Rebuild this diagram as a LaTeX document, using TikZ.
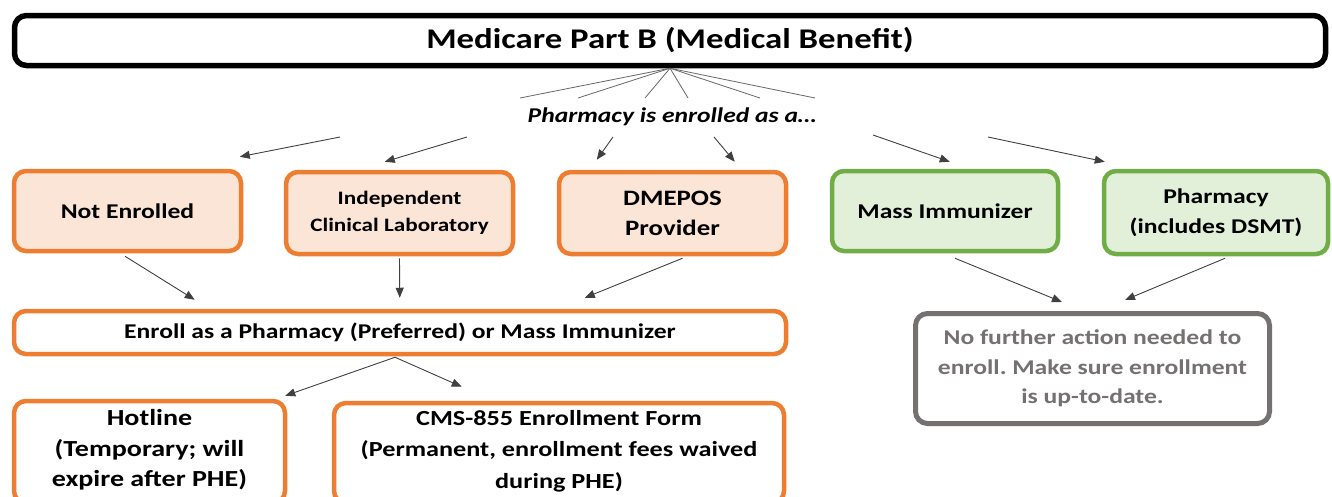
\documentclass[tikz,border=0pt]{standalone}
\usepackage{fontspec}
\setmainfont{Carlito}[FakeStretch=1.22]
\usetikzlibrary{arrows.meta,calc}
\definecolor{orn}{HTML}{ED7D31}
\definecolor{peach}{HTML}{FBE5D6}
\definecolor{grn}{HTML}{70AD47}
\definecolor{lgrn}{HTML}{E2F0D9}
\definecolor{gry}{HTML}{767171}
\definecolor{arr}{HTML}{404040}
\frenchspacing
\tikzset{
  base/.style={rounded corners=12pt, align=center, font=\fontsize{21}{28}\selectfont\bfseries, inner sep=0pt},
  obox/.style={base, draw=orn, line width=4.5pt, fill=peach},
  wbox/.style={base, draw=orn, line width=4.5pt, fill=white},
  gbox/.style={base, draw=grn, line width=4.5pt, fill=lgrn},
  graybox/.style={base, draw=gry, line width=5pt, fill=white, text=gry},
  conn/.style={draw=arr, line width=0.9pt, -{Triangle[length=10pt,width=8pt]}},
  fan/.style={draw=gray!80!black, line width=0.8pt}
}
\begin{document}
\begin{tikzpicture}[x=1pt,y=-1pt]
\useasboundingbox (0,0) rectangle (1332,496);
\node[base, draw=black, line width=5.5pt, fill=white, minimum width=1311pt, minimum height=50pt, font=\fontsize{28.5}{34}\selectfont\bfseries] (title) at (670,40.5) {Medicare Part B (Medical Benefit)};
\node[font=\fontsize{21}{25}\selectfont\bfseries\itshape, inner sep=0pt] (pe) at (672,117) {Pharmacy is enrolled as a…};

\node[obox, minimum width=227pt, minimum height=80pt] (ne) at (127.5,211) {Not Enrolled};
\node[obox, minimum width=227pt, minimum height=82pt, font=\fontsize{19}{27}\selectfont\bfseries] (icl) at (399.5,213) {Independent\\Clinical Laboratory};
\node[obox, minimum width=227pt, minimum height=82pt, font=\fontsize{22}{30}\selectfont\bfseries] (dme) at (672.5,213) {DMEPOS\\Provider};
\node[gbox, minimum width=226pt, minimum height=80pt] (mass) at (945,211) {Mass Immunizer};
\node[gbox, minimum width=224pt, minimum height=83pt, font=\fontsize{21}{30}\selectfont\bfseries] (ph) at (1216,212.5) {Pharmacy\\(includes DSMT)};

\node[wbox, minimum width=772pt, minimum height=43pt] (en) at (400,332.5) {Enroll as a Pharmacy (Preferred) or Mass Immunizer};
\node[wbox, minimum width=271pt, minimum height=102pt,
  label={[yshift=2pt, align=center, inner sep=0pt, font=\fontsize{23}{30.5}\selectfont\bfseries]center:Hotline\\(Temporary; will\\expire after PHE)}] (hot) at (149.5,452) {};
\node[wbox, minimum width=450pt, minimum height=100pt,
  label={[yshift=2pt, align=center, inner sep=0pt, font=\fontsize{21.5}{31.5}\selectfont\bfseries]center:CMS-855 Enrollment Form\\(Permanent, enrollment fees waived\\during PHE)}] (cms) at (559,453) {};
\node[graybox, minimum width=354pt, minimum height=110pt, font=\fontsize{21}{29.5}\selectfont\bfseries] (nf) at (1092.5,368.5) {No further action needed to\\enroll. Make sure enrollment\\is up-to-date.};

% fan lines
\foreach \x/\n in {520/a,578/b,645/c,688/d,760/e,815/f}{
  \coordinate (f\n) at (\x,98);
  \draw[fan] (title.south) -- (f\n);
}
% arrows from label
\coordinate (s1) at (340,137);
\coordinate (s2) at (467,137);
\coordinate (s3) at (613,137);
\coordinate (s4) at (714,137);
\coordinate (s5) at (873,135);
\coordinate (s6) at (988,137);
\draw[conn] (s1) -- ($(ne.north west)+(228,-12)$);
\draw[conn] (s2) -- ($(icl.north west)+(101,-8)$);
\draw[conn] (s3) -- ($(dme.north west)+(40,-10)$);
\draw[conn] (s4) -- ($(dme.north west)+(178,-8)$);
\draw[conn] (s5) -- ($(mass.north west)+(120,-7)$);
\draw[conn] (s6) -- ($(ph.north west)+(3,-7)$);

\draw[conn] ($(ne.south)+(-2.5,3)$) -- ($(en.north west)+(183,-9)$);
\draw[conn] ($(icl.south)+(0,2)$) -- ($(en.north west)+(388,-11)$);
\draw[conn] ($(dme.south)+(10,2)$) -- ($(en.north west)+(573,-11)$);
\draw[conn] ($(mass.south)+(10,5)$) -- ($(nf.north west)+(149,-9)$);
\draw[conn] ($(ph.south)+(9,2)$) -- ($(nf.north west)+(212,-11)$);

\draw[conn] ($(en.south)+(-5,1)$) -- ($(hot.north east)+(-2,-3)$);
\draw[conn] ($(en.south)+(-5,1)$) -- ($(cms.north west)+(130,-14)$);
\end{tikzpicture}
\end{document}
